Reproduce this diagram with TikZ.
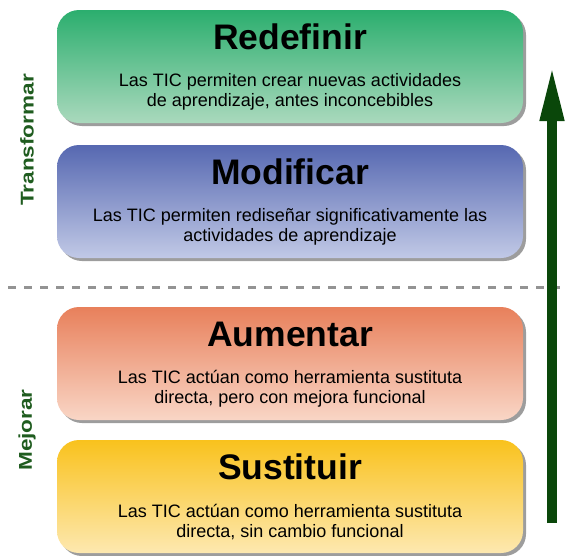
\documentclass[tikz,border=0pt]{standalone}
\usepackage{fontspec}
\setmainfont{Liberation Sans}
\usepackage{tikz}
\usetikzlibrary{shadows,arrows.meta}

\definecolor{verdeA}{HTML}{2BAE6E}
\definecolor{verdeB}{HTML}{AAD9BD}
\definecolor{azulA}{HTML}{5668B1}
\definecolor{azulB}{HTML}{C1C9E6}
\definecolor{naranjaA}{HTML}{E8805B}
\definecolor{naranjaB}{HTML}{F9D6C6}
\definecolor{amarilloA}{HTML}{F9C21D}
\definecolor{amarilloB}{HTML}{FDE8B0}
\definecolor{verdeosc}{HTML}{1F5C1F}
\definecolor{flecha}{HTML}{0A470A}

\tikzset{
    nivel/.style={draw=none, rounded corners=22pt, minimum width=466pt, minimum height=113pt,
        top color=#1A, bottom color=#1B,
        drop shadow={shadow xshift=3pt, shadow yshift=-3pt, fill=black!55, opacity=0.7}},
    titulo/.style={font=\fontsize{35.5}{37}\selectfont\bfseries},
    texto/.style={font=\fontsize{18}{20}\selectfont, align=center},
    lado/.style={rotate=90, text=verdeosc, font=\fontsize{18.5}{20}\selectfont\bfseries}
}

\begin{document}
\begin{tikzpicture}[x=1pt,y=-1pt]
            \useasboundingbox (0,0) rectangle (567,555);
            \draw[line width=3pt, gray!85, dash pattern=on 8pt off 8pt] (8,287) -- (567,287);
            \foreach \nom/\yc/\col/\tit/\txt in {
                red/66.5/verde/Redefinir/{Las TIC permiten crear nuevas actividades\\de aprendizaje, antes inconcebibles},
                mod/201.5/azul/Modificar/{Las TIC permiten rediseñar significativamente las\\actividades de aprendizaje},
                aum/363.5/naranja/Aumentar/{Las TIC actúan como herramienta sustituta\\directa, pero con mejora funcional},
                sus/496.5/amarillo/Sustituir/{Las TIC actúan como herramienta sustituta\\directa, sin cambio funcional}}{
                \node[nivel=\col] (\nom) at (290,\yc) {};
                \node[titulo] (\nom-tit) at ([yshift=-27.5pt]\nom.north) {\tit};
                \node[texto] (\nom-txt) at ([yshift=-82pt]\nom.north) {\txt};
            }
            \node[lado] (transf) at (27,140) {\scalebox{1.22}[1]{Transformar}};
            \node[lado] (mejor) at (27,430) {\scalebox{1.22}[1]{Mejorar}};
            \coordinate (fin) at (552,523);
            \coordinate (punta) at (552,65);
            \draw[flecha, line width=10pt, -{Triangle[length=56pt, width=22pt]}] (fin) -- (punta);
        \end{tikzpicture}
\end{document}
